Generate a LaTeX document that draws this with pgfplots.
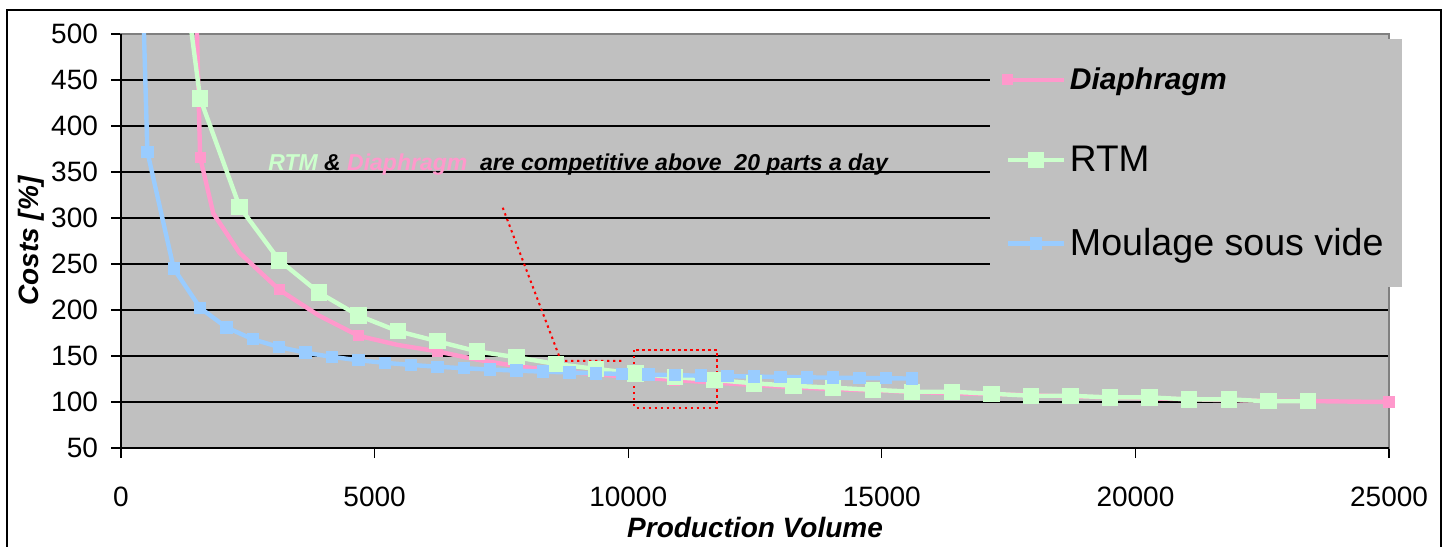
\documentclass[border=0pt]{standalone}
\usepackage{fontspec}
\setmainfont{Liberation Sans}
\usepackage{pgfplots}
\pgfplotsset{compat=1.18}
\definecolor{plotgray}{RGB}{192,192,192}
\definecolor{dpink}{RGB}{255,153,204}
\definecolor{rgreen}{RGB}{204,255,204}
\definecolor{mblue}{RGB}{153,204,255}

\begin{document}
\begin{tikzpicture}[x=0.5bp,y=-0.5bp]
\useasboundingbox (0,0) rectangle (1450,547);
\draw[black,line width=0.8bp] (7,547) -- (7,10) -- (1441,10) -- (1441,547);
\begin{axis}[
    at={(60.5bp,-224bp)}, anchor=south west,
    scale only axis, width=634bp, height=207bp,
    xmin=0, xmax=25000, ymin=50, ymax=500,
    xtick={0,5000,...,25000},
    ytick={50,100,...,500},
    scaled x ticks=false,
    /pgf/number format/1000 sep={},
    /pgf/number format/assume math mode=true,
    axis background/.style={fill=plotgray},
    axis line style={draw=gray, line width=0.7bp},
    ymajorgrids,
    major grid style={black, line width=0.6bp},
    tick align=outside,
    xtick pos=left, ytick pos=left,
    major tick length=5bp,
    tick style={black, line width=0.6bp},
    ticklabel style={font=\fontsize{14bp}{16bp}\selectfont},
    xticklabel shift=11bp,
    yticklabel shift=3bp,
    xlabel={Production Volume},
    ylabel={Costs [\%]},
    xlabel style={at={(axis description cs:0.5,-0.193)}, anchor=center,
        font=\fontsize{14bp}{17bp}\selectfont\bfseries\itshape},
    ylabel style={at={(axis description cs:-0.0705,0.5)}, anchor=center,
        font=\fontsize{14bp}{17bp}\selectfont\bfseries\itshape},
    legend style={at={(0.6853,0.988)}, anchor=north west, fill=plotgray,
        draw=none, row sep=23bp, inner xsep=7bp, inner ysep=12bp},
    legend cell align=left,
    legend image code/.code={\draw[mark repeat=2,mark phase=2]
        plot coordinates {(0bp,0bp) (14bp,0bp) (28bp,0bp)};},
]
% Diaphragm
\addplot[dpink, line width=2.2bp, mark=square*, mark size=1.7bp,
    mark indices={1,4,6,8,10,12,14,16,18,20,22,24,26,28,30,32}] coordinates {
(780,2050) (1560,366) (1820,305) (2340,262) (3120,222) (3900,194) (4680,172)
(5460,162) (6240,155) (7020,146) (7800,139) (8580,134) (9360,130) (10140,127)
(10920,124) (11700,121) (12480,118.5) (13260,116) (14040,114) (14820,112.5)
(15600,111) (16380,109.5) (17160,108.5) (17940,107.5) (18720,106) (19500,105)
(20280,104) (21060,103) (21840,102) (22620,101.5) (23400,101) (24180,100.5)
(25000,100)
};
\addlegendentry{\fontsize{15bp}{18bp}\selectfont\bfseries\itshape Diaphragm}
% RTM
\addplot[rgreen, line width=2.2bp, mark=square*, mark size=3bp] coordinates {
(780,760) (1560,430) (2340,312) (3120,254) (3900,219) (4680,194) (5460,177)
(6240,166) (7020,155) (7800,148.6) (8580,141.3) (9360,136) (10140,131)
(10920,127) (11700,124) (12480,120.3) (13260,117.6) (14040,115.5) (14820,113.3)
(15600,111.2) (16380,111.2) (17160,109) (17940,106.8) (18720,106.8) (19500,105)
(20280,105) (21060,102.9) (21840,102.9) (22620,100.8) (23400,100.8)
};
\addlegendentry{\fontsize{18.5bp}{21bp}\selectfont RTM}
% Moulage sous vide
\addplot[mblue, line width=2.2bp, mark=square*, mark size=2bp] coordinates {
(260,870) (520,372) (1040,245) (1560,202.3) (2080,181) (2600,168.2) (3120,159.7)
(3640,153.6) (4160,149) (4680,145.4) (5200,142.6) (5720,140.3) (6240,138.3)
(6760,136.7) (7280,135.3) (7800,134.1) (8320,133) (8840,132.1) (9360,131.2)
(9880,130.5) (10400,129.8) (10920,129.2) (11440,128.6) (11960,128.1)
(12480,127.7) (13000,127.2) (13520,126.8) (14040,126.5) (14560,126.1)
(15080,125.8) (15600,125.5)
};
\addlegendentry{\fontsize{18.8bp}{21bp}\selectfont Moulage sous vide}
% annotation
\draw[red, line width=1bp, dash pattern=on 1.2bp off 1.8bp]
    (axis cs:7526,311.2) -- (axis cs:8675,144.6) -- (axis cs:9903,144.6);
\draw[red, line width=1bp, dash pattern=on 1.2bp off 1.8bp]
    (axis cs:10120,156.5) rectangle (axis cs:11745,93.8);
\end{axis}
\draw[black, line width=1bp] (121,34) -- (121,448) -- (1389,448);
\node[anchor=base west, inner sep=0pt,
    font=\fontsize{11.5bp}{14bp}\selectfont\bfseries\itshape] at (268,171)
    {\textcolor{rgreen}{RTM} \& \textcolor{dpink}{Diaphragm}\ \ are competitive above\ \ 20 parts a day};
\end{tikzpicture}
\end{document}
